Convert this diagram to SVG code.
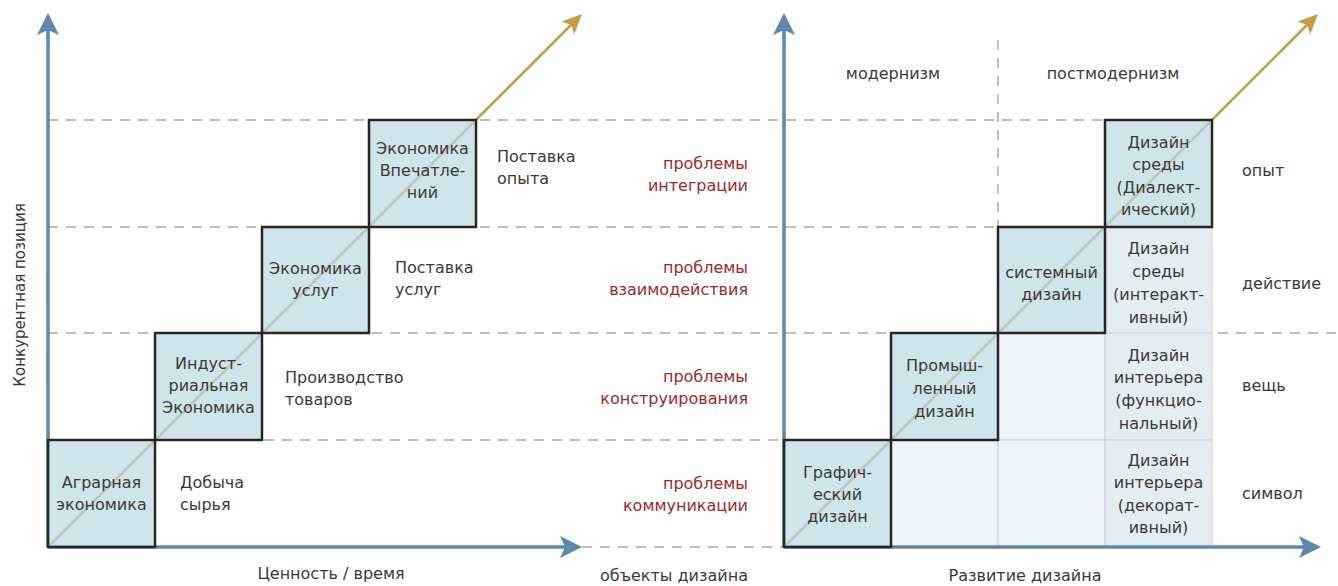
<svg xmlns="http://www.w3.org/2000/svg" width="1338" height="586" viewBox="0 0 1338 586">
<defs>
<marker id="ab" markerUnits="userSpaceOnUse" markerWidth="24" markerHeight="24" refX="16" refY="11" orient="auto">
<path d="M0,0 L22,11 L0,22 L5,11 Z" fill="#5b89ab"/>
</marker>
<marker id="ag" markerUnits="userSpaceOnUse" markerWidth="22" markerHeight="22" refX="13" refY="9" orient="auto">
<path d="M0,0 L20,9 L0,18 L5,9 Z" fill="#c79c48"/>
</marker>
</defs>
<style>
.ax{stroke:#5b89ab;stroke-width:3.5;fill:none;marker-end:url(#ab)}
.gd{stroke:#c79c48;stroke-width:2.5;fill:none;marker-end:url(#ag)}
.dash{stroke:#a8a8a8;stroke-width:1.5;stroke-dasharray:10 8;fill:none}
.box{fill:#bcd8e4;fill-opacity:0.7;stroke:#262626;stroke-width:2.5}
.cellA{fill:#e3eef3;stroke:#c8d5db;stroke-width:1}
.cellB{fill:#eef5f8;stroke:#c8d5db;stroke-width:1}
text{font-family:"DejaVu Sans","Noto Sans",sans-serif;font-size:16px;fill:#3a3a3a}
.c{text-anchor:middle}
.r{text-anchor:end}
.red{fill:#9e2a2b;text-anchor:end}
</style>
<rect width="1338" height="586" fill="#ffffff"/>

<g id="grid">
<path class="dash" d="M48,120 H1212 M48,227 H1212 M48,333 H1338 M48,440 H1212 M582,547 H784 M998,40 V227"/>
</g>

<g id="cells">
<rect class="cellB" x="891" y="440" width="107" height="107"/>
<rect class="cellB" x="998" y="333" width="107" height="107"/>
<rect class="cellB" x="998" y="440" width="107" height="107"/>
<rect class="cellA" x="1105" y="227" width="107" height="106"/>
<rect class="cellA" x="1105" y="333" width="107" height="107"/>
<rect class="cellA" x="1105" y="440" width="107" height="107"/>
</g>

<g id="axes">
<path class="ax" d="M48,547 V19"/>
<path class="ax" d="M48,547 H576"/>
<path class="ax" d="M784,547 V19"/>
<path class="ax" d="M784,547 H1315"/>
</g>

<g id="connectors">
<path class="gd" d="M48,547 L577,19"/>
<path class="gd" d="M784,547 L1313,19"/>
</g>

<g id="agrarian"><rect class="box" x="48" y="440" width="107" height="107"/>
<text class="c" x="101.5" y="488">Аграрная</text><text class="c" x="101.5" y="510">экономика</text></g>
<g id="industrial"><rect class="box" x="155" y="333" width="107" height="107"/>
<text class="c" x="208.5" y="369">Индуст-</text><text class="c" x="208.5" y="391">риальная</text><text class="c" x="208.5" y="413">Экономика</text></g>
<g id="services"><rect class="box" x="262" y="227" width="107" height="106"/>
<text class="c" x="315.5" y="274">Экономика</text><text class="c" x="315.5" y="296">услуг</text></g>
<g id="experience"><rect class="box" x="369" y="120" width="107" height="107"/>
<text class="c" x="422.5" y="154">Экономика</text><text class="c" x="422.5" y="176">Впечатле-</text><text class="c" x="422.5" y="198">ний</text></g>

<g id="left-labels">
<text x="180" y="488">Добыча</text><text x="180" y="510">сырья</text>
<text x="285" y="383">Производство</text><text x="285" y="405">товаров</text>
<text x="395" y="273">Поставка</text><text x="395" y="295">услуг</text>
<text x="497" y="162">Поставка</text><text x="497" y="184">опыта</text>
</g>

<g id="problems">
<text class="red" x="748" y="169">проблемы</text><text class="red" x="748" y="191">интеграции</text>
<text class="red" x="748" y="273">проблемы</text><text class="red" x="748" y="295">взаимодействия</text>
<text class="red" x="748" y="382">проблемы</text><text class="red" x="748" y="404">конструирования</text>
<text class="red" x="748" y="489">проблемы</text><text class="red" x="748" y="511">коммуникации</text>
</g>

<g id="graphic"><rect class="box" x="784" y="440" width="107" height="107"/>
<text class="c" x="837.5" y="478">Графич-</text><text class="c" x="837.5" y="500">еский</text><text class="c" x="837.5" y="522">дизайн</text></g>
<g id="industrial-design"><rect class="box" x="891" y="333" width="107" height="107"/>
<text class="c" x="944.5" y="371">Промыш-</text><text class="c" x="944.5" y="394">ленный</text><text class="c" x="944.5" y="417">дизайн</text></g>
<g id="system-design"><rect class="box" x="998" y="227" width="107" height="106"/>
<text class="c" x="1051.5" y="278">системный</text><text class="c" x="1051.5" y="300">дизайн</text></g>
<g id="env-dialectic"><rect class="box" x="1105" y="120" width="107" height="107"/>
<text class="c" x="1158.5" y="148">Дизайн</text><text class="c" x="1158.5" y="170">среды</text><text class="c" x="1158.5" y="193">(Диалект-</text><text class="c" x="1158.5" y="215">ический)</text></g>
<g id="env-interactive">
<text class="c" x="1158.5" y="254">Дизайн</text><text class="c" x="1158.5" y="277">среды</text><text class="c" x="1158.5" y="300">(интеракт-</text><text class="c" x="1158.5" y="323">ивный)</text></g>
<g id="interior-functional">
<text class="c" x="1158.5" y="361">Дизайн</text><text class="c" x="1158.5" y="383">интерьера</text><text class="c" x="1158.5" y="406">(функцио-</text><text class="c" x="1158.5" y="429">нальный)</text></g>
<g id="interior-decorative">
<text class="c" x="1158.5" y="466">Дизайн</text><text class="c" x="1158.5" y="488">интерьера</text><text class="c" x="1158.5" y="511">(декорат-</text><text class="c" x="1158.5" y="533">ивный)</text></g>

<g id="right-labels">
<text class="c" x="893" y="79">модернизм</text>
<text class="c" x="1113" y="79">постмодернизм</text>
<text x="1242" y="176">опыт</text>
<text x="1242" y="289">действие</text>
<text x="1242" y="391">вещь</text>
<text x="1242" y="499">символ</text>
</g>

<g id="axis-labels">
<text class="c" x="331" y="579">Ценность / время</text>
<text class="r" x="748" y="581">объекты дизайна</text>
<text class="c" x="1025" y="581">Развитие дизайна</text>
<text class="c" transform="translate(25,295) rotate(-90)" style="font-size:15px">Конкурентная позиция</text>
</g>
</svg>
